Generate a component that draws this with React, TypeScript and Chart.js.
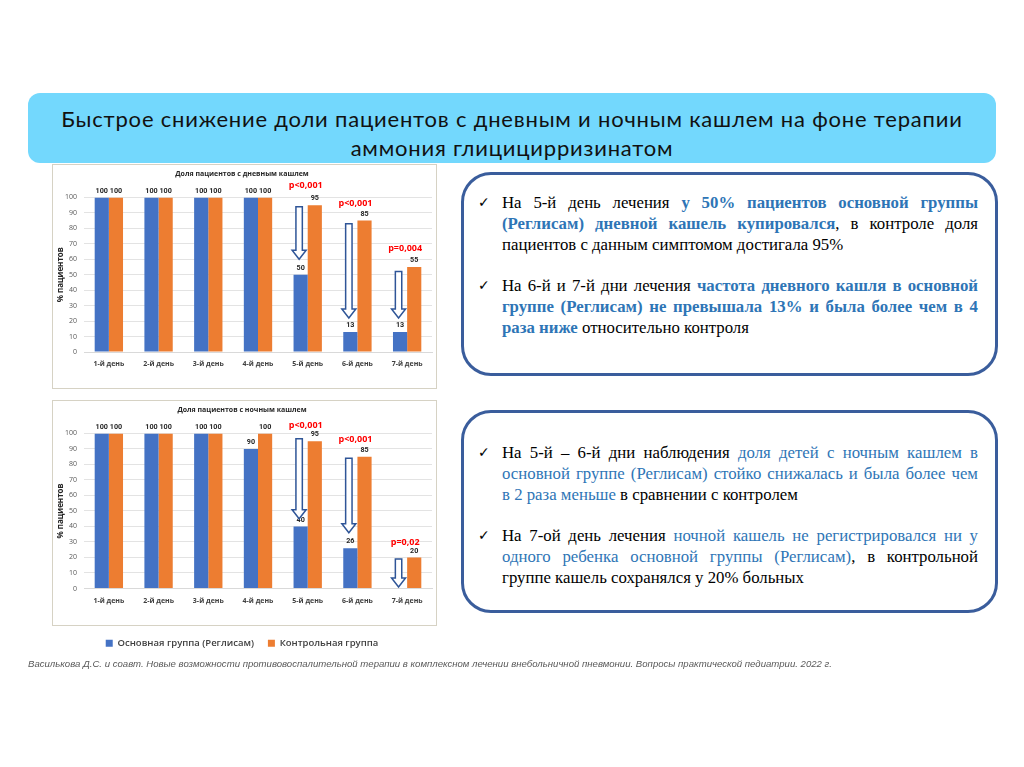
import React, { useEffect, useRef } from 'react';
import { Chart, registerables } from 'chart.js';

Chart.register(...registerables);

// ---------- data ----------
const days = ['1-й день', '2-й день', '3-й день', '4-й день', '5-й день', '6-й день', '7-й день'];
const seriesNames = ['Основная группа (Реглисам)', 'Контрольная группа'];
const dayMain = [100, 100, 100, 100, 50, 13, 13];
const dayControl = [100, 100, 100, 100, 95, 85, 55];
const nightMain = [100, 100, 100, 90, 40, 26, 0];
const nightControl = [100, 100, 100, 100, 95, 85, 20];
const dayPLabels = ['', '', '', '', 'p<0,001', 'p<0,001', 'p=0,004'];
const dayPLevel = [null, null, null, null, 108, 96, 67];
const nightPLabels = ['', '', '', '', 'p<0,001', 'p<0,001', 'p=0,02'];
const nightPLevel = [null, null, null, null, 105, 96, 30];
const dayArrowTop = [null, null, null, null, 94, 83, 52];
const dayArrowTip = [null, null, null, null, 60, 22, 22];
const nightArrowTop = [null, null, null, null, 96.5, 84, 19];
const nightArrowTip = [null, null, null, null, 45, 36, 1];
const yMin = 0;
const yMax = 100;
const yStep = 10;
const dayTitle = 'Доля пациентов с дневным кашлем';
const nightTitle = 'Доля пациентов с ночным кашлем';

const BLUE = '#4472C4';
const ORANGE = '#ED7D31';
const ARROW = '#2F5597';
const CHART_FONT = '"Open Sans", sans-serif';
const NUM_FONT = 'Roboto, sans-serif';

const annotPlugin = {
  id: 'annot',
  afterDatasetsDraw(chart: any, _args: any, opts: any) {
    const ctx = chart.ctx;
    const ys = chart.scales.y;
    const xs = chart.scales.x;
    ctx.save();
    // value labels
    ctx.font = `bold 7.2px ${NUM_FONT}`;
    ctx.fillStyle = '#262626';
    ctx.textAlign = 'center';
    ctx.textBaseline = 'bottom';
    chart.data.datasets.forEach((ds: any, di: number) => {
      const meta = chart.getDatasetMeta(di);
      meta.data.forEach((el: any, i: number) => {
        const v = ds.data[i];
        if (v > 0) ctx.fillText(String(v), el.x, el.y - 3);
      });
    });
    // arrows
    const meta0 = chart.getDatasetMeta(0);
    const tops = opts.arrowTop || [];
    const tips = opts.arrowTip || [];
    ctx.lineWidth = 1.5;
    ctx.strokeStyle = ARROW;
    ctx.fillStyle = '#ffffff';
    tops.forEach((t: any, i: number) => {
      if (t == null) return;
      const x = meta0.data[i].x - 1.5;
      const yt = ys.getPixelForValue(t);
      const yp = ys.getPixelForValue(tips[i]);
      const sw = 3.2, hw = 7, hh = 9;
      ctx.beginPath();
      ctx.moveTo(x - sw, yt);
      ctx.lineTo(x + sw, yt);
      ctx.lineTo(x + sw, yp - hh);
      ctx.lineTo(x + hw, yp - hh);
      ctx.lineTo(x, yp);
      ctx.lineTo(x - hw, yp - hh);
      ctx.lineTo(x - sw, yp - hh);
      ctx.closePath();
      ctx.fill();
      ctx.stroke();
    });
    // p-values
    const pl = opts.pLabels || [];
    const pv = opts.pLevel || [];
    ctx.font = `bold 9px ${CHART_FONT}`;
    ctx.fillStyle = '#FF0000';
    ctx.textBaseline = 'middle';
    pl.forEach((t: string, i: number) => {
      if (!t || pv[i] == null) return;
      ctx.fillText(t, xs.getPixelForValue(i) - 2, ys.getPixelForValue(pv[i]));
    });
    ctx.restore();
  },
};

function BarChart(props: {
  title: string; main: number[]; control: number[];
  pLabels: string[]; pLevel: (number | null)[];
  arrowTop: (number | null)[]; arrowTip: (number | null)[];
  legend: boolean; width: number; height: number;
}) {
  const ref = useRef<HTMLCanvasElement | null>(null);
  useEffect(() => {
    if (!ref.current) return;
    const chart = new Chart(ref.current, {
      type: 'bar',
      data: {
        labels: days,
        datasets: [
          { label: seriesNames[0], data: props.main, backgroundColor: BLUE, categoryPercentage: 0.57, barPercentage: 1 },
          { label: seriesNames[1], data: props.control, backgroundColor: ORANGE, categoryPercentage: 0.57, barPercentage: 1 },
        ],
      },
      options: {
        animation: false,
        responsive: false,
        maintainAspectRatio: false,
        layout: { padding: { left: 0, right: 5, top: 0, bottom: props.legend ? 2 : 20 } },
        scales: {
          x: {
            grid: { display: false, drawTicks: false },
            border: { display: true, color: '#d9d9d9' },
            ticks: { color: '#404040', font: { family: CHART_FONT, size: 7, weight: 'bold' }, padding: 8, maxRotation: 0 },
            afterFit: (s: any) => { s.height = props.legend ? 36 : 17; },
          },
          y: {
            min: yMin, max: yMax,
            ticks: { stepSize: yStep, color: '#595959', font: { family: CHART_FONT, size: 7 }, padding: 7 },
            grid: { color: '#e3e3e3', drawTicks: false },
            border: { display: false },
            title: { display: true, text: '% пациентов', color: '#262626', font: { family: CHART_FONT, size: 8, weight: 'bold' }, padding: { top: 4, bottom: 4 } },
            afterFit: (s: any) => { s.width = 32; },
          },
        },
        plugins: {
          title: { display: true, text: props.title, color: '#262626', font: { family: CHART_FONT, size: 7, weight: 'bold' }, padding: { top: 6, bottom: 19 } },
          legend: {
            display: props.legend,
            position: 'bottom',
            labels: { boxWidth: 7, boxHeight: 7, padding: 14, color: '#404040', font: { family: CHART_FONT, size: 9.5, weight: 600 } },
          },
          tooltip: { enabled: false },
          annot: { pLabels: props.pLabels, pLevel: props.pLevel, arrowTop: props.arrowTop, arrowTip: props.arrowTip },
        } as any,
      },
      plugins: [annotPlugin],
    } as any);
    return () => chart.destroy();
  }, []);
  return <canvas ref={ref} width={props.width} height={props.height} style={{ width: props.width, height: props.height, display: 'block' }} />;
}

const serif = '"Liberation Serif", "Times New Roman", serif';
const blueBold = { color: '#2E75B6', fontWeight: 'bold' as const };
const blueNorm = { color: '#2E75B6' };

function Bullet(props: { children: React.ReactNode; gap?: number }) {
  return (
    <div style={{ display: 'flex', marginTop: props.gap || 0 }}>
      <div style={{ width: 24, flex: '0 0 24px', fontFamily: '"DejaVu Sans", sans-serif', fontSize: 14, lineHeight: '21px' }}>✓</div>
      <div style={{ flex: 1, textAlign: 'justify' }}>{props.children}</div>
    </div>
  );
}

export default function App() {
  const boxStyle: React.CSSProperties = {
    position: 'absolute', left: 461, width: 537, border: '3px solid #3A5D9C', borderRadius: 30, boxSizing: 'border-box', background: '#fff',
  };
  const textStyle: React.CSSProperties = {
    position: 'absolute', left: 478, width: 500, fontFamily: serif, fontSize: 16.8, lineHeight: '21px', color: '#000',
  };
  return (
    <div style={{ position: 'absolute', left: 0, top: 0, width: 1024, height: 767, background: '#fff', overflow: 'hidden' }}>
      <div style={{
        position: 'absolute', left: 28, top: 93, width: 968, height: 70, background: '#73D8FD', borderRadius: 12,
        fontFamily: 'Lato, sans-serif', fontSize: 22, letterSpacing: 0.8, lineHeight: '29px', textAlign: 'center', color: '#111', paddingTop: 11, boxSizing: 'border-box',
      }}>
        Быстрое снижение доли пациентов с дневным и ночным кашлем на фоне терапии<br />аммония глицицирризинатом
      </div>

      <div style={{ position: 'absolute', left: 52, top: 164, width: 385, height: 225, border: '1px solid #d6d2c4', boxSizing: 'border-box' }} />
      <div style={{ position: 'absolute', left: 52, top: 164 }}>
        <BarChart title={dayTitle} main={dayMain} control={dayControl} pLabels={dayPLabels} pLevel={dayPLevel}
          arrowTop={dayArrowTop} arrowTip={dayArrowTip} legend={false} width={385} height={225} />
      </div>

      <div style={{ position: 'absolute', left: 52, top: 400, width: 385, height: 226, border: '1px solid #d6d2c4', boxSizing: 'border-box' }} />
      <div style={{ position: 'absolute', left: 52, top: 400 }}>
        <BarChart title={nightTitle} main={nightMain} control={nightControl} pLabels={nightPLabels} pLevel={nightPLevel}
          arrowTop={nightArrowTop} arrowTip={nightArrowTip} legend={true} width={385} height={260} />
      </div>

      <div style={{ ...boxStyle, top: 172, height: 204 }} />
      <div style={{ ...textStyle, top: 192 }}>
        <Bullet>На 5-й день лечения <span style={blueBold}>у 50% пациентов основной группы (Реглисам) дневной кашель купировался</span>, в контроле доля пациентов с данным симптомом достигала 95%</Bullet>
        <Bullet gap={20}>На 6-й и 7-й дни лечения <span style={blueBold}>частота дневного кашля в основной группе (Реглисам) не превышала 13% и была более чем в 4 раза ниже</span> относительно контроля</Bullet>
      </div>

      <div style={{ ...boxStyle, top: 410, height: 203 }} />
      <div style={{ ...textStyle, top: 442 }}>
        <Bullet>На 5-й – 6-й дни наблюдения <span style={blueNorm}>доля детей с ночным кашлем в основной группе (Реглисам) стойко снижалась и была более чем в{'\u00A0'}2 раза меньше</span> в сравнении с контролем</Bullet>
        <Bullet gap={20}>На 7-ой день лечения <span style={blueNorm}>ночной кашель не регистрировался ни у одного ребенка основной группы (Реглисам)</span>, в контрольной группе кашель сохранялся у 20% больных</Bullet>
      </div>

      <div style={{ position: 'absolute', left: 28, top: 658, fontFamily: '"Liberation Sans", Arial, sans-serif', fontStyle: 'italic', fontSize: 9.6, color: '#595959', whiteSpace: 'nowrap' }}>
        Василькова Д.С. и соавт. Новые возможности противовоспалительной терапии в комплексном лечении внебольничной пневмонии. Вопросы практической педиатрии. 2022 г.
      </div>
    </div>
  );
}
